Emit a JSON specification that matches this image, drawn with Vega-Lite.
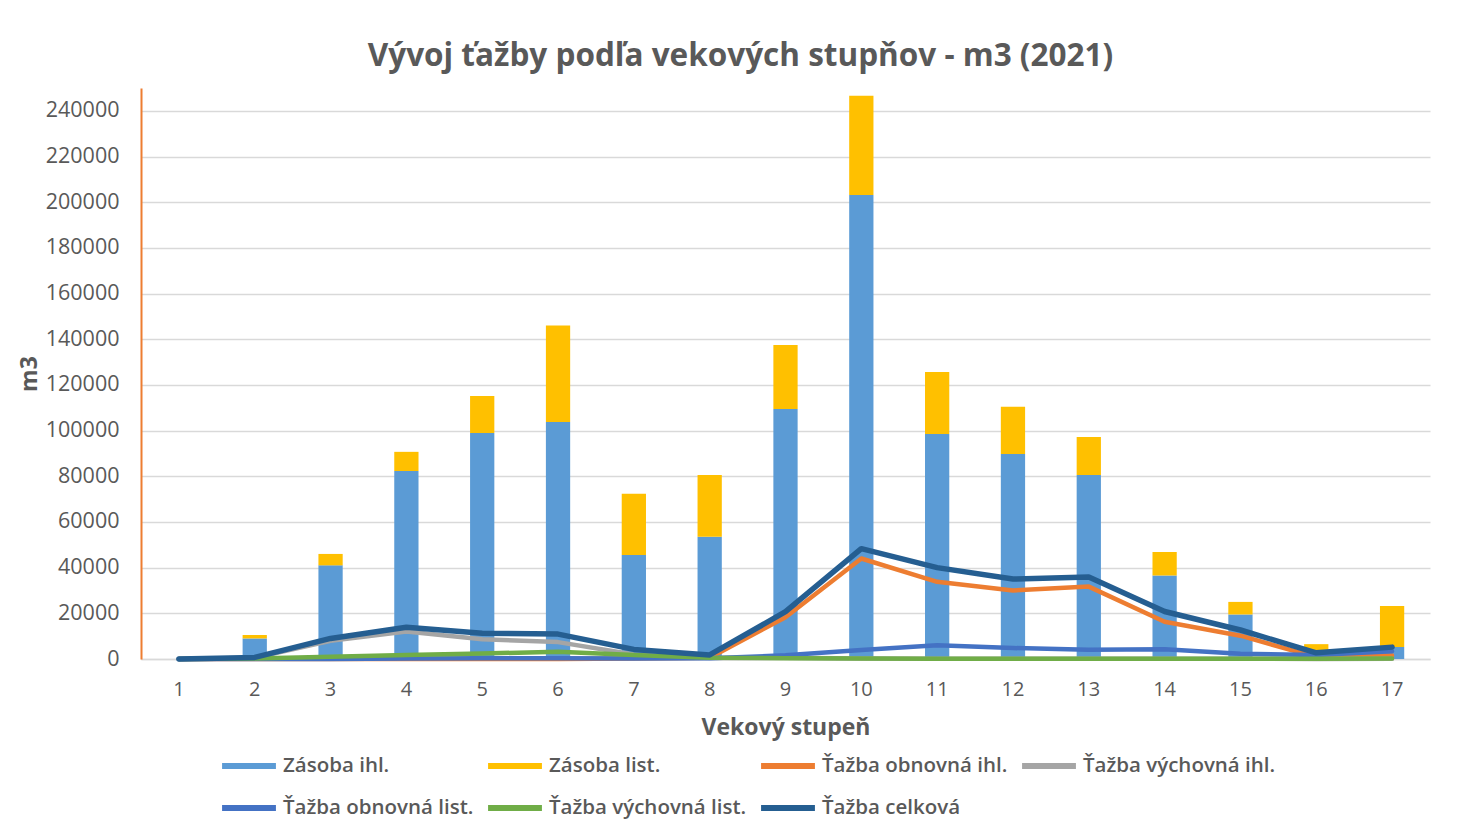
{
  "$schema": "https://vega.github.io/schema/vega-lite/v6.json",
  "width": 1289,
  "height": 571,
  "autosize": {"type": "none"},
  "padding": {"left": 141, "top": 88, "right": 30, "bottom": 175},
  "background": "#ffffff",
  "title": {
    "text": "Vývoj ťažby podľa vekových stupňov - m3 (2021)",
    "font": "Open Sans",
    "fontSize": 31.5,
    "fontWeight": "bold",
    "color": "#595959",
    "anchor": "middle",
    "dx": -45,
    "offset": 16
  },
  "datasets": {
    "zasoba": [
      {"stupen": 1, "serie": "Zásoba ihl.", "poradie": 1, "hodnota": 0},
      {"stupen": 1, "serie": "Zásoba list.", "poradie": 2, "hodnota": 0},
      {"stupen": 2, "serie": "Zásoba ihl.", "poradie": 1, "hodnota": 9000},
      {"stupen": 2, "serie": "Zásoba list.", "poradie": 2, "hodnota": 1500},
      {"stupen": 3, "serie": "Zásoba ihl.", "poradie": 1, "hodnota": 41000},
      {"stupen": 3, "serie": "Zásoba list.", "poradie": 2, "hodnota": 5000},
      {"stupen": 4, "serie": "Zásoba ihl.", "poradie": 1, "hodnota": 82300},
      {"stupen": 4, "serie": "Zásoba list.", "poradie": 2, "hodnota": 8400},
      {"stupen": 5, "serie": "Zásoba ihl.", "poradie": 1, "hodnota": 99000},
      {"stupen": 5, "serie": "Zásoba list.", "poradie": 2, "hodnota": 16200},
      {"stupen": 6, "serie": "Zásoba ihl.", "poradie": 1, "hodnota": 103800},
      {"stupen": 6, "serie": "Zásoba list.", "poradie": 2, "hodnota": 42200},
      {"stupen": 7, "serie": "Zásoba ihl.", "poradie": 1, "hodnota": 45500},
      {"stupen": 7, "serie": "Zásoba list.", "poradie": 2, "hodnota": 26800},
      {"stupen": 8, "serie": "Zásoba ihl.", "poradie": 1, "hodnota": 53500},
      {"stupen": 8, "serie": "Zásoba list.", "poradie": 2, "hodnota": 27100},
      {"stupen": 9, "serie": "Zásoba ihl.", "poradie": 1, "hodnota": 109500},
      {"stupen": 9, "serie": "Zásoba list.", "poradie": 2, "hodnota": 28000},
      {"stupen": 10, "serie": "Zásoba ihl.", "poradie": 1, "hodnota": 203200},
      {"stupen": 10, "serie": "Zásoba list.", "poradie": 2, "hodnota": 43400},
      {"stupen": 11, "serie": "Zásoba ihl.", "poradie": 1, "hodnota": 98500},
      {"stupen": 11, "serie": "Zásoba list.", "poradie": 2, "hodnota": 27200},
      {"stupen": 12, "serie": "Zásoba ihl.", "poradie": 1, "hodnota": 89800},
      {"stupen": 12, "serie": "Zásoba list.", "poradie": 2, "hodnota": 20600},
      {"stupen": 13, "serie": "Zásoba ihl.", "poradie": 1, "hodnota": 80600},
      {"stupen": 13, "serie": "Zásoba list.", "poradie": 2, "hodnota": 16600},
      {"stupen": 14, "serie": "Zásoba ihl.", "poradie": 1, "hodnota": 36600},
      {"stupen": 14, "serie": "Zásoba list.", "poradie": 2, "hodnota": 10300},
      {"stupen": 15, "serie": "Zásoba ihl.", "poradie": 1, "hodnota": 19500},
      {"stupen": 15, "serie": "Zásoba list.", "poradie": 2, "hodnota": 5500},
      {"stupen": 16, "serie": "Zásoba ihl.", "poradie": 1, "hodnota": 2000},
      {"stupen": 16, "serie": "Zásoba list.", "poradie": 2, "hodnota": 4500},
      {"stupen": 17, "serie": "Zásoba ihl.", "poradie": 1, "hodnota": 5300},
      {"stupen": 17, "serie": "Zásoba list.", "poradie": 2, "hodnota": 17900}
    ],
    "tazba": [
      {"stupen": 1, "serie": "Ťažba obnovná ihl.", "hodnota": 0},
      {"stupen": 2, "serie": "Ťažba obnovná ihl.", "hodnota": 0},
      {"stupen": 3, "serie": "Ťažba obnovná ihl.", "hodnota": 0},
      {"stupen": 4, "serie": "Ťažba obnovná ihl.", "hodnota": 0},
      {"stupen": 5, "serie": "Ťažba obnovná ihl.", "hodnota": 0},
      {"stupen": 6, "serie": "Ťažba obnovná ihl.", "hodnota": 0},
      {"stupen": 7, "serie": "Ťažba obnovná ihl.", "hodnota": 200},
      {"stupen": 8, "serie": "Ťažba obnovná ihl.", "hodnota": 500},
      {"stupen": 9, "serie": "Ťažba obnovná ihl.", "hodnota": 18300},
      {"stupen": 10, "serie": "Ťažba obnovná ihl.", "hodnota": 44000},
      {"stupen": 11, "serie": "Ťažba obnovná ihl.", "hodnota": 33800},
      {"stupen": 12, "serie": "Ťažba obnovná ihl.", "hodnota": 30000},
      {"stupen": 13, "serie": "Ťažba obnovná ihl.", "hodnota": 31700},
      {"stupen": 14, "serie": "Ťažba obnovná ihl.", "hodnota": 16300},
      {"stupen": 15, "serie": "Ťažba obnovná ihl.", "hodnota": 10200},
      {"stupen": 16, "serie": "Ťažba obnovná ihl.", "hodnota": 800},
      {"stupen": 17, "serie": "Ťažba obnovná ihl.", "hodnota": 1500},
      {"stupen": 1, "serie": "Ťažba výchovná ihl.", "hodnota": 0},
      {"stupen": 2, "serie": "Ťažba výchovná ihl.", "hodnota": 500},
      {"stupen": 3, "serie": "Ťažba výchovná ihl.", "hodnota": 8000},
      {"stupen": 4, "serie": "Ťažba výchovná ihl.", "hodnota": 12000},
      {"stupen": 5, "serie": "Ťažba výchovná ihl.", "hodnota": 8600},
      {"stupen": 6, "serie": "Ťažba výchovná ihl.", "hodnota": 7400},
      {"stupen": 7, "serie": "Ťažba výchovná ihl.", "hodnota": 2000},
      {"stupen": 8, "serie": "Ťažba výchovná ihl.", "hodnota": 400},
      {"stupen": 9, "serie": "Ťažba výchovná ihl.", "hodnota": 500},
      {"stupen": 10, "serie": "Ťažba výchovná ihl.", "hodnota": 200},
      {"stupen": 11, "serie": "Ťažba výchovná ihl.", "hodnota": 100},
      {"stupen": 12, "serie": "Ťažba výchovná ihl.", "hodnota": 100},
      {"stupen": 13, "serie": "Ťažba výchovná ihl.", "hodnota": 100},
      {"stupen": 14, "serie": "Ťažba výchovná ihl.", "hodnota": 100},
      {"stupen": 15, "serie": "Ťažba výchovná ihl.", "hodnota": 100},
      {"stupen": 16, "serie": "Ťažba výchovná ihl.", "hodnota": 0},
      {"stupen": 17, "serie": "Ťažba výchovná ihl.", "hodnota": 100},
      {"stupen": 1, "serie": "Ťažba obnovná list.", "hodnota": 0},
      {"stupen": 2, "serie": "Ťažba obnovná list.", "hodnota": 0},
      {"stupen": 3, "serie": "Ťažba obnovná list.", "hodnota": 0},
      {"stupen": 4, "serie": "Ťažba obnovná list.", "hodnota": 200},
      {"stupen": 5, "serie": "Ťažba obnovná list.", "hodnota": 300},
      {"stupen": 6, "serie": "Ťažba obnovná list.", "hodnota": 300},
      {"stupen": 7, "serie": "Ťažba obnovná list.", "hodnota": 200},
      {"stupen": 8, "serie": "Ťažba obnovná list.", "hodnota": 300},
      {"stupen": 9, "serie": "Ťažba obnovná list.", "hodnota": 1600},
      {"stupen": 10, "serie": "Ťažba obnovná list.", "hodnota": 3900},
      {"stupen": 11, "serie": "Ťažba obnovná list.", "hodnota": 6000},
      {"stupen": 12, "serie": "Ťažba obnovná list.", "hodnota": 4800},
      {"stupen": 13, "serie": "Ťažba obnovná list.", "hodnota": 4000},
      {"stupen": 14, "serie": "Ťažba obnovná list.", "hodnota": 4300},
      {"stupen": 15, "serie": "Ťažba obnovná list.", "hodnota": 2300},
      {"stupen": 16, "serie": "Ťažba obnovná list.", "hodnota": 1800},
      {"stupen": 17, "serie": "Ťažba obnovná list.", "hodnota": 3400},
      {"stupen": 1, "serie": "Ťažba výchovná list.", "hodnota": 0},
      {"stupen": 2, "serie": "Ťažba výchovná list.", "hodnota": 200},
      {"stupen": 3, "serie": "Ťažba výchovná list.", "hodnota": 1000},
      {"stupen": 4, "serie": "Ťažba výchovná list.", "hodnota": 1700},
      {"stupen": 5, "serie": "Ťažba výchovná list.", "hodnota": 2400},
      {"stupen": 6, "serie": "Ťažba výchovná list.", "hodnota": 3200},
      {"stupen": 7, "serie": "Ťažba výchovná list.", "hodnota": 1800},
      {"stupen": 8, "serie": "Ťažba výchovná list.", "hodnota": 600},
      {"stupen": 9, "serie": "Ťažba výchovná list.", "hodnota": 300},
      {"stupen": 10, "serie": "Ťažba výchovná list.", "hodnota": 200},
      {"stupen": 11, "serie": "Ťažba výchovná list.", "hodnota": 100},
      {"stupen": 12, "serie": "Ťažba výchovná list.", "hodnota": 100},
      {"stupen": 13, "serie": "Ťažba výchovná list.", "hodnota": 100},
      {"stupen": 14, "serie": "Ťažba výchovná list.", "hodnota": 100},
      {"stupen": 15, "serie": "Ťažba výchovná list.", "hodnota": 100},
      {"stupen": 16, "serie": "Ťažba výchovná list.", "hodnota": 100},
      {"stupen": 17, "serie": "Ťažba výchovná list.", "hodnota": 200},
      {"stupen": 1, "serie": "Ťažba celková", "hodnota": 0},
      {"stupen": 2, "serie": "Ťažba celková", "hodnota": 700},
      {"stupen": 3, "serie": "Ťažba celková", "hodnota": 9000},
      {"stupen": 4, "serie": "Ťažba celková", "hodnota": 13900},
      {"stupen": 5, "serie": "Ťažba celková", "hodnota": 11300},
      {"stupen": 6, "serie": "Ťažba celková", "hodnota": 10900},
      {"stupen": 7, "serie": "Ťažba celková", "hodnota": 4200},
      {"stupen": 8, "serie": "Ťažba celková", "hodnota": 1800},
      {"stupen": 9, "serie": "Ťažba celková", "hodnota": 20700},
      {"stupen": 10, "serie": "Ťažba celková", "hodnota": 48300},
      {"stupen": 11, "serie": "Ťažba celková", "hodnota": 40000},
      {"stupen": 12, "serie": "Ťažba celková", "hodnota": 35000},
      {"stupen": 13, "serie": "Ťažba celková", "hodnota": 35900},
      {"stupen": 14, "serie": "Ťažba celková", "hodnota": 20800},
      {"stupen": 15, "serie": "Ťažba celková", "hodnota": 12700},
      {"stupen": 16, "serie": "Ťažba celková", "hodnota": 2700},
      {"stupen": 17, "serie": "Ťažba celková", "hodnota": 5200}
    ]
  },
  "encoding": {
    "x": {
      "field": "stupen",
      "type": "ordinal",
      "title": "Vekový stupeň",
      "scale": {"paddingInner": 0.68, "paddingOuter": 0.34},
      "axis": {
        "labelAngle": 0,
        "labelFont": "Open Sans",
        "labelFontSize": 20,
        "labelColor": "#595959",
        "labelPadding": 20,
        "ticks": false,
        "domainColor": "#D9D9D9",
        "domainWidth": 1.5,
        "titleFont": "Open Sans",
        "titleFontSize": 23,
        "titleFontWeight": "bold",
        "titleColor": "#595959",
        "titlePadding": 17
      }
    },
    "y": {
      "field": "hodnota",
      "type": "quantitative",
      "title": "m3",
      "scale": {"domain": [0, 250000], "nice": false},
      "axis": {
        "values": [0, 20000, 40000, 60000, 80000, 100000, 120000, 140000, 160000, 180000, 200000, 220000, 240000],
        "format": "d",
        "labelFont": "Open Sans",
        "labelFontSize": 21.5,
        "labelColor": "#595959",
        "labelPadding": 22,
        "ticks": false,
        "domainColor": "#ED7D31",
        "domainWidth": 2,
        "gridColor": "#D9D9D9",
        "gridWidth": 1.5,
        "titleFont": "Open Sans",
        "titleFontSize": 23,
        "titleFontWeight": "bold",
        "titleColor": "#595959",
        "titlePadding": 4
      }
    },
    "color": {
      "field": "serie",
      "type": "nominal",
      "scale": {
        "domain": ["Zásoba ihl.", "Zásoba list.", "Ťažba obnovná ihl.", "Ťažba výchovná ihl.", "Ťažba obnovná list.", "Ťažba výchovná list.", "Ťažba celková"],
        "range": ["#5B9BD5", "#FFC000", "#ED7D31", "#A5A5A5", "#4472C4", "#70AD47", "#255E91"]
      },
      "legend": {
        "title": null,
        "orient": "none",
        "legendX": 78,
        "legendY": 648,
        "direction": "horizontal",
        "columns": 4,
        "columnPadding": 2,
        "rowPadding": 0,
        "symbolType": "stroke",
        "symbolSize": 2900,
        "symbolStrokeWidth": 6,
        "labelOffset": 4,
        "labelFont": "Open Sans",
        "labelFontSize": 20.5,
        "labelFontWeight": 600,
        "labelColor": "#595959",
        "labelLimit": 300
      }
    }
  },
  "layer": [
    {
      "data": {"name": "zasoba"},
      "mark": {"type": "bar"},
      "encoding": {
        "order": {"field": "poradie", "type": "quantitative"}
      }
    },
    {
      "data": {"name": "tazba"},
      "transform": [{"filter": "datum.serie !== 'Ťažba celková'"}],
      "mark": {"type": "line", "strokeWidth": 4.5, "strokeCap": "round", "strokeJoin": "round"}
    },
    {
      "data": {"name": "tazba"},
      "transform": [{"filter": "datum.serie === 'Ťažba celková'"}],
      "mark": {"type": "line", "strokeWidth": 5.5, "strokeCap": "round", "strokeJoin": "round"}
    }
  ],
  "config": {
    "view": {"stroke": null}
  }
}
